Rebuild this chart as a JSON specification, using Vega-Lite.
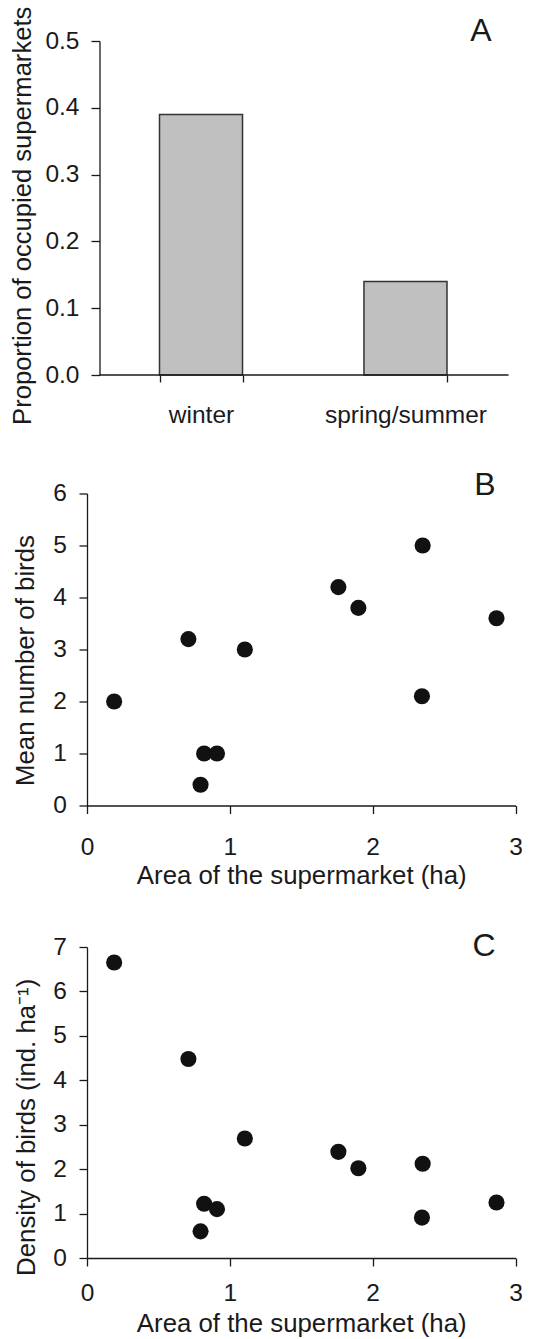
{
  "$schema": "https://vega.github.io/schema/vega-lite/v6.json",
  "padding": {"left": 10, "top": 6, "right": 5, "bottom": 0},
  "background": "white",
  "config": {
    "font": "Liberation Sans",
    "view": {"stroke": null},
    "axis": {
      "grid": false,
      "domainColor": "#1a1a1a",
      "tickColor": "#1a1a1a",
      "labelColor": "#1a1a1a",
      "titleColor": "#1a1a1a",
      "labelFontSize": 24.5,
      "titleFontSize": 25.8,
      "titleFontWeight": "normal",
      "domainWidth": 1.3,
      "tickWidth": 1.3,
      "tickSize": 8,
      "labelFlush": false,
      "labelOverlap": false
    },
    "text": {"font": "Liberation Sans", "fontSize": 32, "color": "#1a1a1a", "align": "right", "baseline": "alphabetic"}
  },
  "datasets": {
    "occupancy": [
      {"season": "winter", "proportion": 0.39},
      {"season": "spring/summer", "proportion": 0.14}
    ],
    "birds": [
      {"area": 0.19, "mean_birds": 2.0, "density": 6.65},
      {"area": 0.71, "mean_birds": 3.2, "density": 4.48},
      {"area": 0.82, "mean_birds": 1.0, "density": 1.22},
      {"area": 0.91, "mean_birds": 1.0, "density": 1.10},
      {"area": 0.795, "mean_birds": 0.4, "density": 0.6},
      {"area": 1.105, "mean_birds": 3.0, "density": 2.69},
      {"area": 1.76, "mean_birds": 4.2, "density": 2.39},
      {"area": 1.9, "mean_birds": 3.8, "density": 2.02},
      {"area": 2.35, "mean_birds": 5.0, "density": 2.12},
      {"area": 2.345, "mean_birds": 2.1, "density": 0.91},
      {"area": 2.867, "mean_birds": 3.6, "density": 1.25}
    ],
    "panelA": [{"panel": "A"}],
    "panelB": [{"panel": "B"}],
    "panelC": [{"panel": "C"}]
  },
  "spacing": 41.5,
  "columns": 1,
  "align": "none",
  "concat": [
    {
      "width": 421.5,
      "height": 334,
      "layer": [
        {
          "data": {"name": "occupancy"},
          "mark": {"type": "bar", "fill": "#c0c0c0", "stroke": "#333333", "strokeWidth": 1.5},
          "encoding": {
            "x": {
              "field": "season", "type": "nominal", "sort": ["winter", "spring/summer"],
              "scale": {"paddingInner": 0.594, "paddingOuter": 0.3277, "align": 0.541},
              "axis": {"title": null, "labelAngle": 0, "tickBand": "extent", "tickSize": 7, "labelPadding": 21, "domain": false}
            },
            "y": {
              "field": "proportion", "type": "quantitative",
              "scale": {"domain": [0, 0.5], "nice": false},
              "axis": {"title": "Proportion of occupied supermarkets", "values": [0, 0.1, 0.2, 0.3, 0.4, 0.5], "format": ".1f", "tickSize": 8.5, "labelPadding": 12, "titlePadding": 9, "titleFontSize": 25.6, "titleY": 174.3, "offset": -12.5}
            }
          }
        },
        {
          "data": {"name": "panelA"},
          "mark": {"type": "rule", "color": "#1a1a1a", "strokeWidth": 1.3},
          "encoding": {
            "x": {"datum": 0.0297, "type": "quantitative", "scale": {"domain": [0, 1], "nice": false}, "axis": null},
            "x2": {"datum": 1},
            "y": {"datum": 0, "type": "quantitative"}
          }
        },
        {
          "data": {"name": "panelA"},
          "mark": {"type": "text"},
          "encoding": {
            "text": {"field": "panel"},
            "x": {"datum": 0.9597, "type": "quantitative", "scale": {"domain": [0, 1], "nice": false}, "axis": null},
            "y": {"datum": 0.5, "type": "quantitative"}
          }
        }
      ],
      "resolve": {"scale": {"x": "independent"}}
    },
    {
      "width": 428.5,
      "height": 312,
      "layer": [
        {
          "data": {"name": "birds"},
          "mark": {"type": "circle", "size": 260, "fill": "#111111", "opacity": 1},
          "encoding": {
            "x": {
              "field": "area", "type": "quantitative",
              "scale": {"domain": [0, 3], "nice": false},
              "axis": {"title": "Area of the supermarket (ha)", "values": [0, 1, 2, 3], "format": "d", "labelPadding": 22, "titlePadding": 4}
            },
            "y": {
              "field": "mean_birds", "type": "quantitative",
              "scale": {"domain": [0, 6], "nice": false},
              "axis": {"title": "Mean number of birds", "values": [0, 1, 2, 3, 4, 5, 6], "format": "d", "labelPadding": 12.5, "titlePadding": 14, "titleY": 166.5}
            }
          }
        },
        {
          "data": {"name": "panelB"},
          "mark": {"type": "text"},
          "encoding": {
            "text": {"field": "panel"},
            "x": {"datum": 2.86, "type": "quantitative"},
            "y": {"datum": 5.98, "type": "quantitative"}
          }
        }
      ]
    },
    {
      "width": 428.5,
      "height": 311,
      "layer": [
        {
          "data": {"name": "birds"},
          "mark": {"type": "circle", "size": 260, "fill": "#111111", "opacity": 1},
          "encoding": {
            "x": {
              "field": "area", "type": "quantitative",
              "scale": {"domain": [0, 3], "nice": false},
              "axis": {"title": "Area of the supermarket (ha)", "values": [0, 1, 2, 3], "format": "d", "labelPadding": 15, "titlePadding": 7}
            },
            "y": {
              "field": "density", "type": "quantitative",
              "scale": {"domain": [0, 7], "nice": false},
              "axis": {"title": "Density of birds (ind. ha⁻¹)", "values": [0, 1, 2, 3, 4, 5, 6, 7], "format": "d", "labelPadding": 12.5, "titlePadding": 13, "titleY": 179.8}
            }
          }
        },
        {
          "data": {"name": "panelC"},
          "mark": {"type": "text"},
          "encoding": {
            "text": {"field": "panel"},
            "x": {"datum": 2.86, "type": "quantitative"},
            "y": {"datum": 6.79, "type": "quantitative"}
          }
        }
      ]
    }
  ]
}
